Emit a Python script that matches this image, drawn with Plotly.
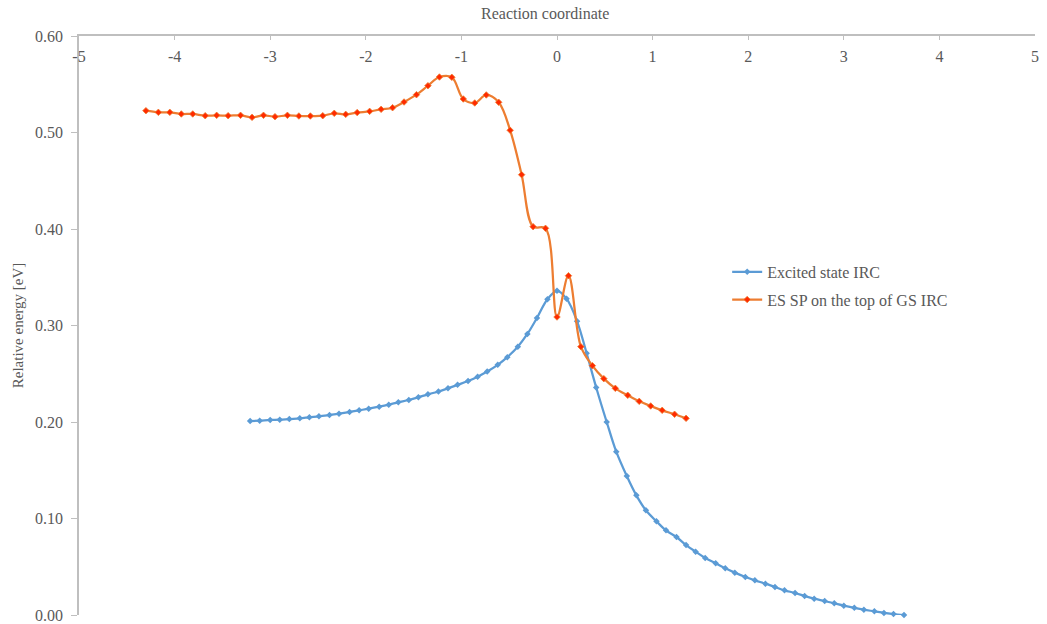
import plotly.graph_objects as go

# Excited state IRC (blue)
es_x = [-3.21, -3.11, -3.00, -2.90, -2.80, -2.69, -2.59, -2.49, -2.38, -2.28,
        -2.17, -2.07, -1.97, -1.86, -1.76, -1.66, -1.55, -1.45, -1.35, -1.24,
        -1.14, -1.04, -0.93, -0.83, -0.73, -0.62, -0.52, -0.41, -0.31, -0.21,
        -0.10, 0.00, 0.10, 0.21, 0.31, 0.41, 0.52, 0.62, 0.73, 0.83,
        0.93, 1.04, 1.14, 1.25, 1.35, 1.45, 1.55, 1.66, 1.76, 1.86,
        1.97, 2.07, 2.18, 2.28, 2.38, 2.49, 2.59, 2.69, 2.80, 2.90,
        3.00, 3.11, 3.21, 3.32, 3.42, 3.52, 3.63]
es_y = [0.2010, 0.2014, 0.2021, 0.2024, 0.2031, 0.2038, 0.2049, 0.2059, 0.2073, 0.2086,
        0.2104, 0.2121, 0.2138, 0.2159, 0.2180, 0.2204, 0.2228, 0.2256, 0.2287, 0.2316,
        0.2349, 0.2385, 0.2424, 0.2470, 0.2523, 0.2592, 0.2672, 0.2780, 0.2912, 0.3078,
        0.3272, 0.3360, 0.3278, 0.3043, 0.2712, 0.2358, 0.2000, 0.1692, 0.1440, 0.1240,
        0.1085, 0.0971, 0.0877, 0.0808, 0.0725, 0.0656, 0.0591, 0.0535, 0.0484, 0.0439,
        0.0394, 0.0359, 0.0325, 0.0290, 0.0256, 0.0228, 0.0197, 0.0169, 0.0145, 0.0121,
        0.0097, 0.0074, 0.0055, 0.0038, 0.0022, 0.0010, 0.0000]

# ES SP on the top of GS IRC (orange)
sp_x = [-4.30, -4.17, -4.05, -3.93, -3.81, -3.68, -3.56, -3.44, -3.31, -3.19,
        -3.07, -2.95, -2.82, -2.70, -2.58, -2.45, -2.33, -2.21, -2.09, -1.96,
        -1.84, -1.72, -1.60, -1.47, -1.35, -1.23, -1.10, -0.98, -0.86, -0.74,
        -0.61, -0.49, -0.37, -0.25, -0.12, 0.00, 0.12, 0.25, 0.37, 0.49,
        0.61, 0.74, 0.86, 0.98, 1.10, 1.23, 1.35]
sp_y = [0.5226, 0.5209, 0.5209, 0.5192, 0.5192, 0.5174, 0.5178, 0.5174, 0.5178, 0.5157,
        0.5178, 0.5164, 0.5178, 0.5171, 0.5171, 0.5174, 0.5199, 0.5188, 0.5206, 0.5219,
        0.5240, 0.5257, 0.5316, 0.5392, 0.5485, 0.5575, 0.5572, 0.5347, 0.5306, 0.5389,
        0.5313, 0.5023, 0.4563, 0.4024, 0.4007, 0.3088, 0.3516, 0.2781, 0.2584, 0.2449,
        0.2349, 0.2277, 0.2214, 0.2166, 0.2121, 0.2080, 0.2038]

x_ticks = [-5, -4, -3, -2, -1, 0, 1, 2, 3, 4, 5]
y_ticks = [0.0, 0.1, 0.2, 0.3, 0.4, 0.5, 0.6]

BLUE = "#5B9BD5"
ORANGE = "#ED7D31"
TXT = "#595959"
AX = "#BFBFBF"
FONT = "Liberation Serif, Times New Roman, serif"

fig = go.Figure()
fig.add_trace(go.Scatter(
    x=es_x, y=es_y, name="Excited state IRC", mode="lines+markers",
    legendgroup="a",
    line=dict(color=BLUE, width=2.25, shape="spline", smoothing=1.0),
    marker=dict(symbol="diamond", size=5, color=BLUE),
    cliponaxis=False,
))
fig.add_trace(go.Scatter(
    x=sp_x, y=sp_y, name="ES SP on the top of GS IRC", mode="lines+markers",
    legendgroup="b",
    line=dict(color=ORANGE, width=2.25, shape="spline", smoothing=1.0),
    marker=dict(symbol="diamond", size=5, color="#FF2A00", line=dict(color=ORANGE, width=0.8)),
    cliponaxis=False,
))

fig.update_layout(
    width=1047, height=624,
    margin=dict(l=79, r=12, t=36, b=9),
    paper_bgcolor="white", plot_bgcolor="white",
    font=dict(family=FONT, color=TXT, size=15),
    showlegend=True,
    legend=dict(x=0.678, y=0.622, xanchor="left", yanchor="top",
                font=dict(family=FONT, size=16, color=TXT),
                bgcolor="rgba(0,0,0,0)", itemwidth=30, tracegroupgap=4),
    xaxis=dict(
        range=[-5, 5], side="top", tickvals=x_ticks, ticktext=[str(v) for v in x_ticks],
        ticks="inside", ticklen=4, tickcolor=AX, ticklabelposition="inside",
        ticklabeloverflow="allow", ticklabelstandoff=11,
        showline=True, linecolor=AX, linewidth=1.5, showgrid=False, zeroline=False,
        tickfont=dict(family=FONT, size=16, color=TXT),
        automargin=False,
    ),
    yaxis=dict(
        range=[0, 0.6], tickvals=y_ticks, tickformat=".2f",
        ticks="outside", ticklen=6, tickcolor=AX, ticklabelstandoff=5,
        showline=True, linecolor=AX, linewidth=1.5, showgrid=False, zeroline=False,
        tickfont=dict(family=FONT, size=16, color=TXT),
        automargin=False,
        title=dict(text="Relative energy [eV]", font=dict(family=FONT, size=15, color=TXT), standoff=8),
    ),
    annotations=[dict(
        text="Reaction coordinate", xref="paper", yref="paper",
        x=0.487, y=1.038, xanchor="center", yanchor="middle", showarrow=False,
        font=dict(family=FONT, size=16, color=TXT),
    )],
)

fig.write_html("out.html")
